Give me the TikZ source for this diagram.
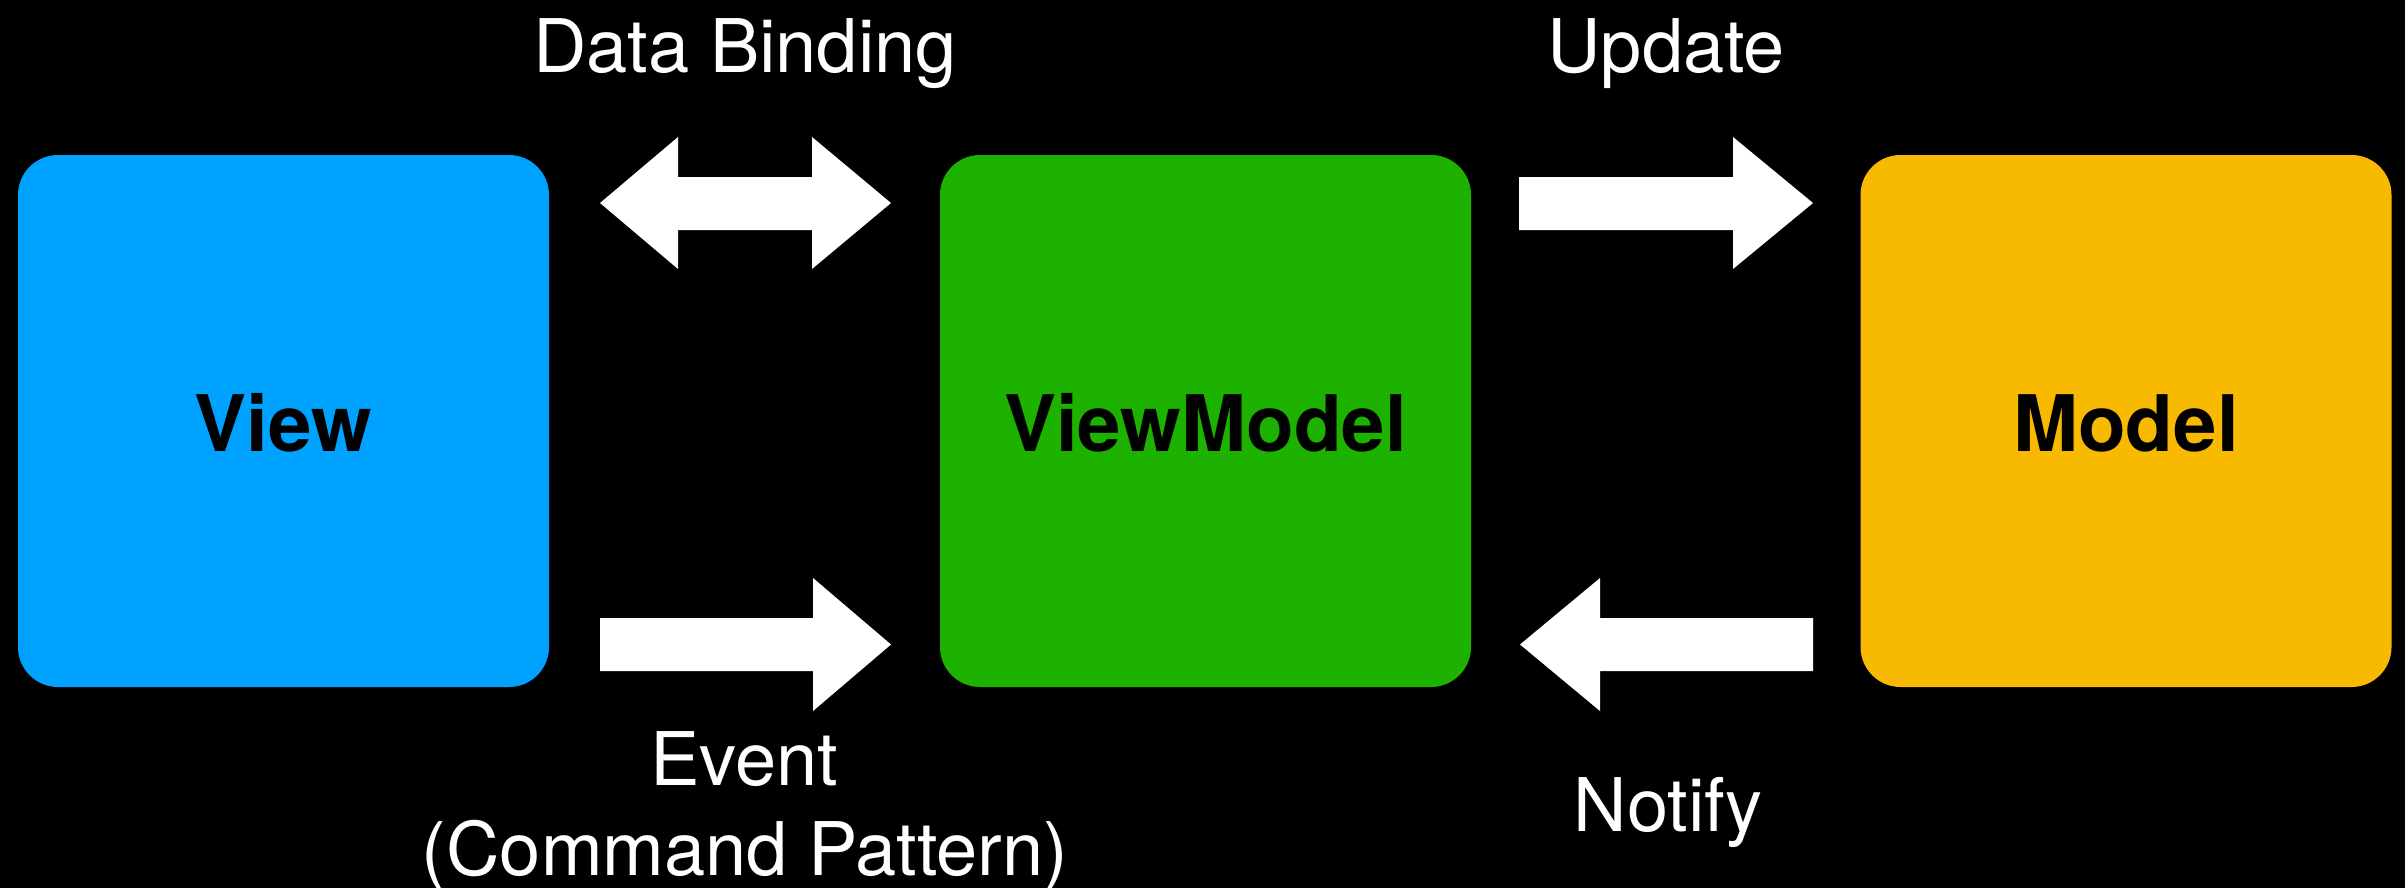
\documentclass[tikz,border=0pt]{standalone}
\usepackage{fontspec}
\setmainfont{TeX Gyre Heros}
\begin{document}
\begin{tikzpicture}[x=1pt,y=-1pt,
  box/.style={rounded corners=40pt, minimum width=531pt, minimum height=532pt, inner sep=0pt, font=\fontsize{78}{90}\selectfont\bfseries, text=black},
  lbl/.style={anchor=base, text=white, inner sep=0pt, font=\fontsize{74}{88}\selectfont},
  bigarrow/.style={fill=white, draw=none}]
\useasboundingbox (0,0) rectangle (2405,888);
\fill[black] (0,0) rectangle (2405,888);
\definecolor{cblue}{HTML}{00A2FF}
\definecolor{cgreen}{HTML}{1DB100}
\definecolor{corange}{HTML}{F8BA00}
\node[box, fill=cblue] (view) at (283.5,421) {};
\node[box, fill=cgreen] (vm) at (1205.5,421) {};
\node[box, fill=corange] (model) at (2126,421) {};
\node[anchor=base, inner sep=0pt, font=\fontsize{78}{90}\selectfont\bfseries] (viewt) at (283.5,451) {View};
\node[anchor=base, inner sep=0pt, font=\fontsize{78}{90}\selectfont\bfseries] (vmt) at (1205.5,451) {ViewModel};
\node[anchor=base, inner sep=0pt, font=\fontsize{78}{90}\selectfont\bfseries] (modelt) at (2126,451) {Model};
% Data Binding double arrow
\fill[bigarrow] (600,203) -- (678,137) -- (678,177) -- (812,177) -- (812,137) -- (891,203) -- (812,269) -- (812,230) -- (678,230) -- (678,269) -- cycle;
% Update arrow
\fill[bigarrow] (1519,177) -- (1733,177) -- (1733,137) -- (1813,203) -- (1733,269) -- (1733,230) -- (1519,230) -- cycle;
% Event arrow
\fill[bigarrow] (600,618) -- (813,618) -- (813,578) -- (891,644.5) -- (813,711) -- (813,671) -- (600,671) -- cycle;
% Notify arrow
\fill[bigarrow] (1813,618) -- (1600,618) -- (1600,578) -- (1520,644.5) -- (1600,711) -- (1600,671) -- (1813,671) -- cycle;
\node[lbl] (db) at (745,73) {Data Binding};
\node[lbl] (up) at (1666,73) {Update};
\node[lbl] (ev) at (744,785) {Event};
\node[lbl] (cp) at (745,875) {(Command Pattern)};
\node[lbl] (nt) at (1668,831) {Notify};
\end{tikzpicture}
\end{document}
